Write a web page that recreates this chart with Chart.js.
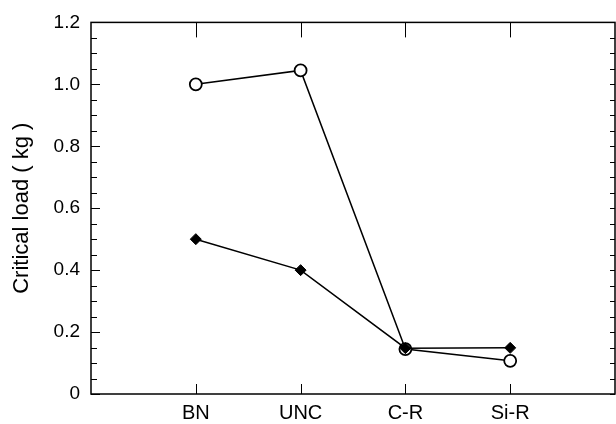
<!DOCTYPE html>
<html>
<head>
<meta charset="utf-8">
<script src="https://cdn.jsdelivr.net/npm/chart.js@4.4.1/dist/chart.umd.min.js"></script>
<style>
  html, body { margin: 0; padding: 0; background: #fff; }
  #wrap { width: 616px; height: 424px; }
</style>
</head>
<body>
<div id="wrap"><canvas id="loadChart" width="616" height="424"></canvas></div>
<script>
const categories = ["BN", "UNC", "C-R", "Si-R"];
const openCircleLoads = [1.0, 1.045, 0.145, 0.107];
const filledDiamondLoads = [0.5, 0.4, 0.148, 0.149];
const yTicks = [0, 0.2, 0.4, 0.6, 0.8, 1.0, 1.2];

const FONT = "'Liberation Sans', Arial, sans-serif";

// frame + inward ticks, like the original plot
const frameTicks = {
    id: "frameTicks",
    afterDraw(chart) {
        const { ctx, chartArea: a, scales } = chart;
        const x = scales.x, y = scales.y;
        ctx.save();
        ctx.strokeStyle = "#000";
        ctx.lineWidth = 1.5;
        ctx.strokeRect(a.left, a.top, a.right - a.left, a.bottom - a.top);

        ctx.lineWidth = 1;
        ctx.beginPath();
        for (let v = 0; v <= 1.2001; v += 0.05) {
            const py = Math.round(y.getPixelForValue(v)) + 0.5;
            const major = Math.abs(v / 0.2 - Math.round(v / 0.2)) < 0.01;
            const len = major ? 9 : 6;
            ctx.moveTo(a.left, py);
            ctx.lineTo(a.left + len, py);
            ctx.moveTo(a.right, py);
            ctx.lineTo(a.right - 5, py);
        }
        categories.forEach((c, i) => {
            const px = Math.round(x.getPixelForValue(i)) + 0.5;
            ctx.moveTo(px, a.bottom);
            ctx.lineTo(px, a.bottom - 10);
            ctx.moveTo(px, a.top);
            ctx.lineTo(px, a.top + 15);
        });
        ctx.stroke();
        ctx.restore();
    }
};

new Chart(document.getElementById("loadChart"), {
    type: "line",
    data: {
        datasets: [
            {
                label: "diamond",
                data: filledDiamondLoads.map((v, i) => ({ x: i, y: v })),
                borderColor: "#000",
                backgroundColor: "#000",
                borderWidth: 1.5,
                pointStyle: "rectRot",
                pointRadius: 5.5,
                pointBorderWidth: 1,
                tension: 0
            },
            {
                label: "circle",
                data: openCircleLoads.map((v, i) => ({ x: i, y: v })),
                borderColor: "#000",
                backgroundColor: "#fff",
                borderWidth: 1.5,
                pointStyle: "circle",
                pointRadius: 6,
                pointBorderWidth: 1.8,
                tension: 0
            }
        ]
    },
    options: {
        responsive: false,
        animation: false,
        layout: { autoPadding: false, padding: { top: 17, right: 1, left: 0, bottom: 0 } },
        plugins: {
            legend: { display: false },
            tooltip: { enabled: false }
        },
        scales: {
            x: {
                type: "linear",
                min: -1,
                max: 4,
                grid: { display: false, drawTicks: false },
                border: { display: false },
                afterBuildTicks: (scale) => {
                    scale.ticks = categories.map((c, i) => ({ value: i }));
                },
                afterFit: (scale) => { scale.height = 30; },
                ticks: {
                    autoSkip: false,
                    maxRotation: 0,
                    padding: 7,
                    color: "#000",
                    font: { family: FONT, size: 20 },
                    callback: (v) => categories[v] ?? ""
                }
            },
            y: {
                min: 0,
                max: 1.2,
                grid: { display: false, drawTicks: false },
                border: { display: false },
                afterBuildTicks: (scale) => {
                    scale.ticks = yTicks.map(v => ({ value: v }));
                },
                afterFit: (scale) => { scale.width = 91; },
                ticks: {
                    padding: 11,
                    color: "#000",
                    font: { family: FONT, size: 19 },
                    callback: (v) => (v === 0 ? "0" : v.toFixed(1))
                },
                title: {
                    display: true,
                    text: "Critical load ( kg )",
                    color: "#000",
                    font: { family: FONT, size: 22 },
                    padding: { top: 9, bottom: 0 }
                }
            }
        }
    },
    plugins: [frameTicks]
});
</script>
</body>
</html>
